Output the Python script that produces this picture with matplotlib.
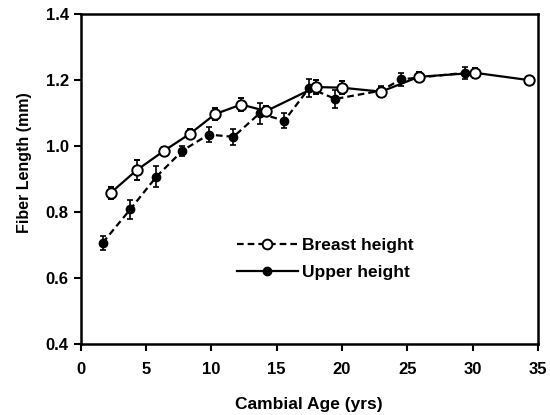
import matplotlib
matplotlib.use("Agg")
import matplotlib.pyplot as plt
from matplotlib.lines import Line2D

plt.rcParams["font.family"] = ["Liberation Sans", "DejaVu Sans"]
plt.rcParams["font.weight"] = "bold"
plt.rcParams["axes.labelweight"] = "bold"

# open circles, solid line
open_age = [2.3, 4.3, 6.4, 8.4, 10.3, 12.3, 14.2, 18.0, 20.0, 23.0, 25.9, 30.2, 34.3]
open_len = [0.858, 0.927, 0.986, 1.038, 1.097, 1.126, 1.106, 1.179, 1.177, 1.165, 1.210, 1.222, 1.200]
open_err = [0.019, 0.031, 0.010, 0.015, 0.019, 0.020, 0.015, 0.020, 0.020, 0.015, 0.015, 0.015, 0.010]

# filled circles, dashed line
fill_age = [1.7, 3.8, 5.8, 7.8, 9.8, 11.7, 13.7, 15.6, 17.5, 19.5, 23.0, 24.5, 29.4]
fill_len = [0.707, 0.808, 0.907, 0.986, 1.035, 1.028, 1.099, 1.077, 1.176, 1.143, 1.168, 1.202, 1.222]
fill_err = [0.021, 0.030, 0.032, 0.015, 0.024, 0.025, 0.031, 0.023, 0.027, 0.028, 0.015, 0.021, 0.018]

legend_labels = ["Breast height", "Upper height"]

fig = plt.figure(figsize=(5.5, 4.15), dpi=100)
ax = fig.add_axes([0.1464, 0.171, 0.8316, 0.795])

dash = (0, (3, 1.8))
ax.errorbar(fill_age, fill_len, yerr=fill_err, color="black", linestyle=dash,
            linewidth=1.6, marker="o", markersize=6, markerfacecolor="black",
            capsize=2.5, elinewidth=1.2, capthick=1.2, zorder=2)
ax.errorbar(open_age, open_len, yerr=open_err, color="black", linestyle="-",
            linewidth=1.6, marker="o", markersize=7.5, markerfacecolor="white",
            markeredgewidth=1.4, capsize=2.5, elinewidth=1.2, capthick=1.2, zorder=3)

ax.set_xlim(0, 35)
ax.set_ylim(0.4, 1.4)
ax.set_xticks(range(0, 36, 5))
ax.set_yticks([0.4, 0.6, 0.8, 1.0, 1.2, 1.4])
ax.set_yticklabels(["0.4", "0.6", "0.8", "1.0", "1.2", "1.4"])
ax.tick_params(axis="both", direction="out", length=5, width=1.5, labelsize=12)
ax.tick_params(axis="x", pad=8)
for s in ax.spines.values():
    s.set_linewidth(1.8)

ax.set_xlabel("Cambial Age (yrs)", fontsize=12.5, labelpad=14)
ax.set_ylabel("Fiber Length (mm)", fontsize=11.5)
ax.yaxis.set_label_coords(-0.105, 0.55)

# legend drawn as in the original figure
handles = [
    Line2D([], [], color="black", linestyle=dash, linewidth=1.6, marker="o",
           markersize=7, markerfacecolor="white", markeredgewidth=1.4),
    Line2D([], [], color="black", linestyle="-", linewidth=1.6, marker="o",
           markersize=6, markerfacecolor="black"),
]
ax.legend(handles, legend_labels, loc="center left", bbox_to_anchor=(0.342, 0.258),
          frameon=False, prop={"size": 12.5, "weight": "bold"}, handlelength=3.5,
          handletextpad=0.25, labelspacing=0.68, borderpad=0, borderaxespad=0)

fig.savefig("out.png", dpi=100)
